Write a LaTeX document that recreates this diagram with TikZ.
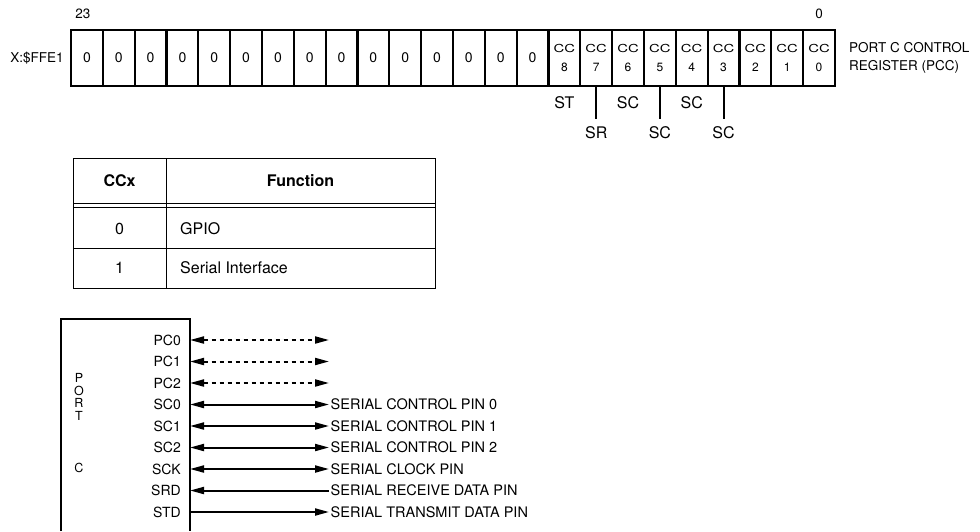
\documentclass[tikz,border=0pt]{standalone}
\usepackage{fontspec}
\setmainfont{TeX Gyre Heros}
\usepackage{graphicx}
\usetikzlibrary{arrows.meta,positioning}

\begin{document}
\begin{tikzpicture}[
      x=1pt, y=-1pt,
      >={Triangle[length=14pt,width=7pt]},
      cell/.style={
        draw=black,
        line width=2.2pt,
        minimum width=31.83pt,
        minimum height=56pt,
        inner sep=0pt,
        font=\fontsize{14}{16}\selectfont
      },
      cccell/.style={
        cell,
        align=center,
        font=\fontsize{12}{19}\selectfont
      },
      regtext/.style={font=\fontsize{13.5}{18}\selectfont, inner sep=1pt},
      fieldtext/.style={font=\fontsize{16}{18}\selectfont, inner sep=1pt},
      lowtext/.style={fieldtext, inner ysep=8pt},
      portletter/.style={font=\fontsize{12.5}{13}\selectfont, inner sep=0pt},
      lead/.style={line width=2pt},
      tline/.style={line width=1pt},
      ttext/.style={font=\fontsize{16}{18}\selectfont, inner sep=2pt},
      thead/.style={font=\fontsize{16}{18}\selectfont\bfseries},
      pinlabel/.style={font=\fontsize{14}{16}\selectfont, anchor=east, inner sep=1pt},
      pinfunc/.style={font=\fontsize{14.5}{16}\selectfont, anchor=west, inner sep=1.5pt},
      both/.style={<->, line width=2pt},
      gpio/.style={both, dash pattern=on 4pt off 4pt}
    ]
    \useasboundingbox (0,0) rectangle (980,531);
    
    % register: bits 23..9 read as zero
    \foreach \bitno in {23,22,...,9}
      \node[cell] (b\bitno) at ({71+(23.5-\bitno)*31.83},58) {0};
    \foreach \bitno in {8,7,...,0}
      \node[cccell] (b\bitno) at ({71+(23.5-\bitno)*31.83},58)
      {\scalebox{1.35}[1]{\fontsize{11}{12}\selectfont CC}\\\bitno};
    
    \node[regtext, above=9pt of b23, xshift=-4pt] (msb) {23};
    \node[regtext, above=9pt of b0] (lsb) {0};
    \node[regtext, left=5pt of b23] (addr) {X:\$FFE1};
    \node[regtext, right=12pt of b0, align=left] (pcc)
    {PORT C CONTROL\\REGISTER (PCC)};
    
    \node[fieldtext] (st) at (b8 |- 0,103) {ST};
    \node[fieldtext] (sc6) at (b6 |- 0,103) {SC};
    \node[fieldtext] (sc4) at (b4 |- 0,103) {SC};
    \node[lowtext] (sr) at (b7 |- 0,133) {SR};
    \node[lowtext] (sc5) at (b5 |- 0,133) {SC};
    \node[lowtext] (sc3) at (b3 |- 0,133) {SC};
    \draw[lead] (b7.south) -- (sr);
    \draw[lead] (b5.south) -- (sc5);
    \draw[lead] (b3.south) -- (sc3);
    
    % CCx function table
    \draw[tline] (73,158) rectangle (435,288);
    \draw[tline] (166,158) -- (166,288);
    \draw[tline] (73,203) -- (435,203);
    \draw[tline] (73,207) -- (435,207);
    \draw[tline] (73,248) -- (435,248);
    \node[thead] (hccx) at (119.5,181) {CCx};
    \node[thead] (hfunc) at (300.5,181) {Function};
    \node[ttext] (v0) at (119.5,229) {0};
    \node[ttext, anchor=west] (f0) at (178,229) {GPIO};
    \node[ttext] (v1) at (119.5,268) {1};
    \node[ttext, anchor=west] (f1) at (178,268) {Serial Interface};
    
    % port C pins
    \draw[lead] (61,531) -- (61,319) -- (190,319) -- (190,531);
    \coordinate (edge) at (190,319);
    \coordinate (reach) at (329,319);
    \foreach \ch/\yy in {P/378,O/390.5,R/403,T/415.5,C/468}
      \node[portletter] (port\ch) at (79,\yy) {\ch};
    
    \foreach \pin [count=\k from 0] in {PC0,PC1,PC2,SC0,SC1,SC2,SCK,SRD,STD}
      \node[pinlabel] (pin\k) at (182,{340+21.5*\k}) {\pin};
    
    \node[pinfunc] (fn3) at (reach |- pin3) {SERIAL CONTROL PIN 0};
    \node[pinfunc] (fn4) at (reach |- pin4) {SERIAL CONTROL PIN 1};
    \node[pinfunc] (fn5) at (reach |- pin5) {SERIAL CONTROL PIN 2};
    \node[pinfunc] (fn6) at (reach |- pin6) {SERIAL CLOCK PIN};
    \node[pinfunc] (fn7) at (reach |- pin7) {SERIAL RECEIVE DATA PIN};
    \node[pinfunc] (fn8) at (reach |- pin8) {SERIAL TRANSMIT DATA PIN};
    
    \draw[gpio] (pin0 -| edge) -- (pin0 -| reach);
    \draw[gpio] (pin1 -| edge) -- (pin1 -| reach);
    \draw[gpio] (pin2 -| edge) -- (pin2 -| reach);
    \draw[both] (pin3 -| edge) -- (fn3.west);
    \draw[both] (pin4 -| edge) -- (fn4.west);
    \draw[both] (pin5 -| edge) -- (fn5.west);
    \draw[both] (pin6 -| edge) -- (fn6.west);
    \draw[lead, <-] (pin7 -| edge) -- (fn7.west);
    \draw[lead, ->] (pin8 -| edge) -- (fn8.west);
    \end{tikzpicture}
\end{document}
